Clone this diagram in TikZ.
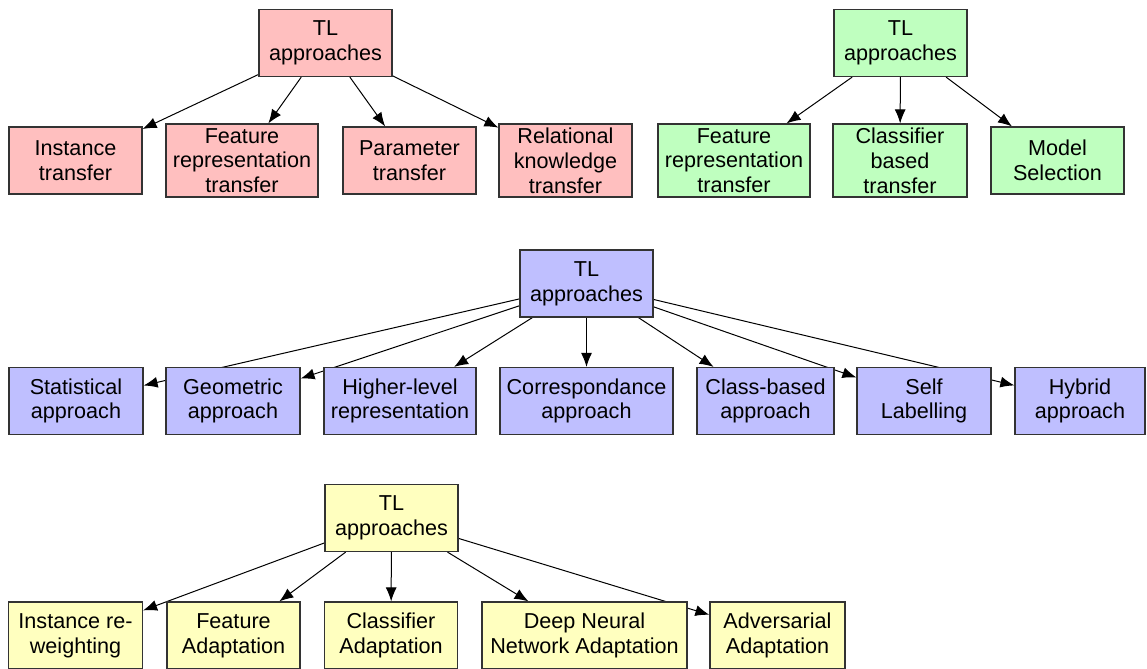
\documentclass[tikz,border=0pt]{standalone}
\usepackage{fontspec}
\setmainfont{Liberation Sans}
\usetikzlibrary{arrows.meta,backgrounds}

\definecolor{tlpink}{RGB}{255,191,191}
\definecolor{tlgreen}{RGB}{191,255,191}
\definecolor{tlblue}{RGB}{191,191,255}
\definecolor{tlyellow}{RGB}{255,255,191}

\tikzset{
  tlbox/.style={draw=black!80, line width=0.6pt, align=center, inner sep=0pt,
    minimum width=66.5pt, minimum height=33.5pt, font=\fontsize{10.8}{12.4}\selectfont},
  tallbox/.style={tlbox, minimum height=36.5pt},
  tlarrow/.style={-{Latex[length=7pt,width=5.5pt]}, line width=0.5pt},
}

\begin{document}
\begin{tikzpicture}[x=0.5pt,y=-0.5pt]
\useasboundingbox (0,0) rectangle (1147,669);

% pink tree
\node[tlbox,fill=tlpink] (pr) at (325.5,43) {TL\\approaches};
\node[tlbox,fill=tlpink] (pi) at (75.5,160.5) {Instance\\transfer};
\node[tallbox,fill=tlpink,minimum width=76pt] (pf) at (242,160.5) {Feature\\representation\\transfer};
\node[tlbox,fill=tlpink] (pp) at (409.5,160.5) {Parameter\\transfer};
\node[tallbox,fill=tlpink] (pk) at (565.5,160.5) {Relational\\knowledge\\transfer};

% green tree
\node[tlbox,fill=tlgreen] (gr) at (900.5,43) {TL\\approaches};
\node[tallbox,fill=tlgreen,minimum width=76pt] (gf) at (734,160.5) {Feature\\representation\\transfer};
\node[tallbox,fill=tlgreen,minimum width=67pt] (gc) at (900,160.5) {Classifier\\based\\transfer};
\node[tlbox,fill=tlgreen] (gm) at (1057.5,160.5) {Model\\Selection};

% blue tree
\node[tlbox,fill=tlblue] (br) at (586.5,283.5) {TL\\approaches};
\node[tlbox,fill=tlblue,minimum width=67pt] (bs) at (76,401) {Statistical\\approach};
\node[tlbox,fill=tlblue,minimum width=67pt] (bg) at (233,401) {Geometric\\approach};
\node[tlbox,fill=tlblue,minimum width=76pt] (bh) at (400,401) {Higher-level\\representation};
\node[tlbox,fill=tlblue,minimum width=86.5pt] (bc) at (586.5,401) {Correspondance\\approach};
\node[tlbox,fill=tlblue,minimum width=68.5pt] (bb) at (765.5,401) {Class-based\\approach};
\node[tlbox,fill=tlblue,minimum width=67pt] (bl) at (924,401) {Self\\Labelling};
\node[tlbox,fill=tlblue,minimum width=65pt] (bm) at (1080,401) {Hybrid\\approach};

% yellow tree
\node[tlbox,fill=tlyellow] (yr) at (391.5,518) {TL\\approaches};
\node[tlbox,fill=tlyellow,minimum width=67pt] (yi) at (75.5,635.5) {Instance re-\\weighting};
\node[tlbox,fill=tlyellow] (yf) at (233.5,635.5) {Feature\\Adaptation};
\node[tlbox,fill=tlyellow] (yc) at (391,635.5) {Classifier\\Adaptation};
\node[tlbox,fill=tlyellow,minimum width=102.5pt] (yd) at (584.5,635.5) {Deep Neural\\Network Adaptation};
\node[tlbox,fill=tlyellow,minimum width=67.5pt] (ya) at (777.5,635.5) {Adversarial\\Adaptation};

% edges go under the boxes
\begin{scope}[on background layer]
\foreach \child in {pi,pf,pp,pk} \draw[tlarrow] (pr) -- (\child);
\foreach \child in {gf,gc,gm} \draw[tlarrow] (gr) -- (\child);
\foreach \child in {bs,bg,bh,bc,bb,bl,bm} \draw[tlarrow] (br) -- (\child);
\foreach \child in {yi,yf,yc,yd,ya} \draw[tlarrow] (yr) -- (\child);
\end{scope}
\end{tikzpicture}
\end{document}
